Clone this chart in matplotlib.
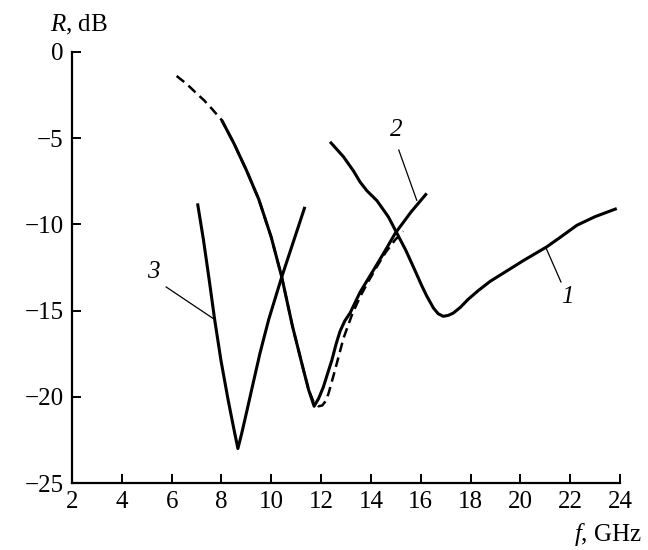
import matplotlib
matplotlib.use("Agg")
import matplotlib.pyplot as plt

plt.rcParams['font.family'] = ['Liberation Serif', 'DejaVu Serif']
plt.rcParams['mathtext.fontset'] = 'custom'
plt.rcParams['mathtext.rm'] = 'Liberation Serif'
plt.rcParams['mathtext.it'] = 'Liberation Serif:italic'
plt.rcParams['lines.scale_dashes'] = False

# Curve 1
f1 = [12.36, 12.9, 13.3, 13.57, 13.84, 14.24, 14.7, 15.04, 15.4, 15.7, 16.04, 16.24, 16.51,
      16.7, 16.9, 17.1, 17.3, 17.6, 17.9, 18.3, 18.79, 19.4, 20.12, 21.06, 21.6, 22.27,
      23.0, 23.87]
r1 = [-5.21, -6.08, -6.9, -7.55, -8.05, -8.62, -9.56, -10.5, -11.5, -12.45, -13.55, -14.15, -14.85,
      -15.18, -15.33, -15.28, -15.15, -14.8, -14.35, -13.85, -13.3, -12.75, -12.1, -11.3, -10.75, -10.05,
      -9.55, -9.08]

# Curve 2 (measured, solid)
f2 = [8.01, 8.5, 9.0, 9.5, 10.0, 10.42, 10.85, 11.25, 11.5, 11.72, 11.9, 12.09, 12.25,
      12.43, 12.6, 12.76, 12.95, 13.16, 13.57, 14.1, 14.5, 14.97, 15.6, 16.24]
r2 = [-3.95, -5.3, -6.85, -8.55, -10.75, -13.05, -15.9, -18.2, -19.6, -20.55, -20.1, -19.44, -18.7,
      -17.89, -16.95, -16.2, -15.6, -15.15, -13.92, -12.66, -11.7, -10.53, -9.3, -8.2]

# Curve 2 (calculated, dashed)
f2d = [6.2, 6.6, 7.0, 7.3, 7.6, 8.01, 8.5, 9.0, 9.5, 10.0, 10.42, 10.85, 11.25, 11.5, 11.7,
       11.9, 12.05, 12.18, 12.3, 12.55, 12.9, 13.25, 13.6, 13.9, 14.24, 14.6, 14.97, 15.3]
r2d = [-1.39, -1.85, -2.4, -2.8, -3.27, -3.95, -5.3, -6.85, -8.55, -10.75, -13.05, -15.9, -18.2, -19.6, -20.3,
       -20.55, -20.5, -20.25, -19.8, -18.5, -16.6, -15.2, -14.1, -13.3, -12.45, -11.6, -10.9, -10.4]

# Curve 3
f3 = [7.04, 7.28, 7.51, 7.72, 7.98, 8.27, 8.51, 8.66, 8.8, 9.0, 9.25, 9.55, 9.9, 10.42, 10.9, 11.35]
r3 = [-8.78, -10.92, -13.24, -15.45, -17.89, -20.2, -21.95, -23.0, -22.2, -20.95, -19.35, -17.45, -15.5,
      -13.05, -10.95, -8.98]

xticks = [2, 4, 6, 8, 10, 12, 14, 16, 18, 20, 22, 24]
yticks = [0, -5, -10, -15, -20, -25]

# curve labels: (text, label pos, leader start, leader end)
labels = [
    ("1", (21.87, -14.2), (21.63, -13.34), (21.04, -11.4)),
    ("2", (15.01, -4.53), (15.12, -5.69), (15.84, -8.6)),
    ("3", (5.25, -12.78), (5.78, -13.63), (7.67, -15.46)),
]

fig = plt.figure(figsize=(6.48, 5.5), dpi=100)
ax = fig.add_axes([72/648, 1-483/550, (620-72)/648, (483-52)/550])

lw = 2.2
ax.plot(f2d, r2d, color='black', lw=1.8, dashes=(7, 4))
for fx, rx in ((f1, r1), (f2, r2), (f3, r3)):
    ax.plot(fx, rx, color='black', lw=lw, solid_capstyle='butt', solid_joinstyle='round')

for txt, pos, a, b in labels:
    ax.plot([a[0], b[0]], [a[1], b[1]], color='black', lw=0.9)
    ax.text(pos[0], pos[1], txt, fontsize=18, fontstyle='italic', ha='center', va='center')

ax.set_xlim(2, 24)
ax.set_ylim(-25, 0)
ax.set_xticks(xticks)
ax.set_yticks(yticks)
ax.spines['top'].set_visible(False)
ax.spines['right'].set_visible(False)
for s in ('left', 'bottom'):
    ax.spines[s].set_linewidth(1.6)
ax.tick_params(direction='in', length=6.5, width=1.4, labelsize=18, pad=6)

fig.text(50/648, 1-25/550, "$R$, dB", fontsize=18, ha='left', va='center')
fig.text(642/648, 1-534/550, "$f$, GHz", fontsize=18, ha='right', va='center')

fig.savefig("out.png", dpi=100)
